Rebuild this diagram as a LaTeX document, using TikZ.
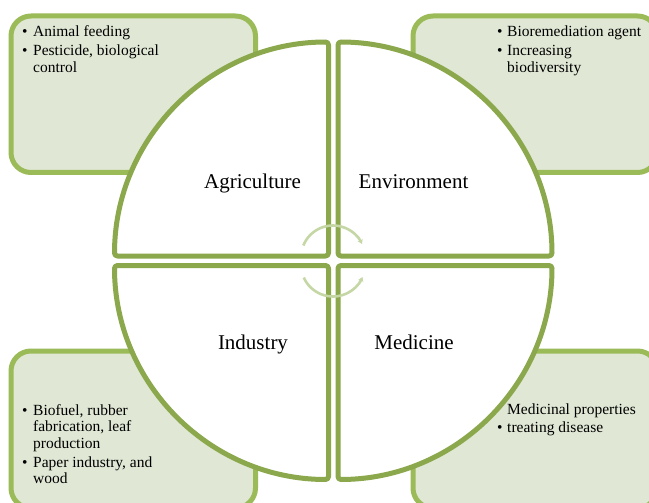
\documentclass[tikz,border=0pt]{standalone}
\usepackage{fontspec}
\setmainfont{Liberation Serif}
\usetikzlibrary{arrows.meta}
\definecolor{quadgreen}{RGB}{139,168,76}
\definecolor{boxgreen}{RGB}{155,187,89}
\definecolor{boxfill}{RGB}{224,232,213}
\definecolor{arcgreen}{RGB}{198,215,166}
\newcommand\bltxt{\fontsize{15.5}{16.5}\selectfont}
\begin{document}
\begin{tikzpicture}[x=1pt,y=-1pt,
  cornerbox/.style={draw=boxgreen,fill=boxfill,line width=5pt,rounded corners=20pt},
  quad/.style={draw=quadgreen,fill=white,line width=5pt,rounded corners=3pt,line join=round},
  cyclearc/.style={draw=arcgreen,line width=2.6pt,-{Stealth[length=4.5pt,width=5.5pt]}},
  quadlabel/.style={font=\fontsize{21}{25}\selectfont,anchor=base,inner sep=0pt},
  bullets/.style={anchor=base west,inner sep=0pt,font=\bltxt}]
\useasboundingbox (0,0) rectangle (649,503);
\fill[white] (0,0) rectangle (649,503);
\clip (0,0) rectangle (649,503);
% corner boxes
\draw[cornerbox] (11,16) rectangle (255.5,172.5);
\draw[cornerbox] (413,16) rectangle (657.5,172.5);
\draw[cornerbox] (11,351) rectangle (255.5,508);
\draw[cornerbox] (413,351) rectangle (657.5,508);
% quadrant corners
\coordinate (tl) at (328.5,256);
\coordinate (tr) at (338,256);
\coordinate (bl) at (328.5,265.5);
\coordinate (br) at (338,265.5);
\draw[quad] (tl) -- ++(-214,0) arc[start angle=180,end angle=270,radius=214] -- cycle;
\draw[quad] (tr) -- ++(0,-214) arc[start angle=270,end angle=360,radius=214] -- cycle;
\draw[quad] (bl) -- ++(0,214) arc[start angle=90,end angle=180,radius=214] -- cycle;
\draw[quad] (br) -- ++(214,0) arc[start angle=0,end angle=90,radius=214] -- cycle;
% central cycle arrows
\coordinate (uc) at (333,257.5);
\coordinate (lc) at (333,264.5);
\draw[cyclearc] ([shift={(-158:32)}]uc) arc[start angle=-158,end angle=-25,radius=32];
\draw[cyclearc] ([shift={(156:32)}]lc) arc[start angle=156,end angle=23,radius=32];
% quadrant labels
\node[quadlabel] (agri) at (252.5,189) {Agriculture};
\node[quadlabel] (env) at (413.5,189) {Environment};
\node[quadlabel] (ind) at (253,349) {Industry};
\node[quadlabel] (med) at (414,349) {Medicine};
% bullet texts
\node[bullets] (agritext) at (22,36.7) {\begin{tabular}[t]{@{}p{11pt}@{}l@{}}
\textbullet & Animal feeding\\[2.5pt]
\textbullet & Pesticide, biological\\
 & control\end{tabular}};
\node[bullets] (envtext) at (497,36.7) {\begin{tabular}[t]{@{}p{10pt}@{}l@{}}
\textbullet & Bioremediation agent\\[2.5pt]
\textbullet & Increasing\\
 & biodiversity\end{tabular}};
\node[bullets] (indtext) at (22,415) {\begin{tabular}[t]{@{}p{11pt}@{}l@{}}
\textbullet & Biofuel, rubber\\
 & fabrication, leaf\\
 & production\\[2.5pt]
\textbullet & Paper industry, and\\
 & wood\end{tabular}};
\node[bullets] (medtext) at (497,414) {\begin{tabular}[t]{@{}p{10pt}@{}l@{}}
 & Medicinal properties\\[1.5pt]
\textbullet & treating disease\end{tabular}};
\end{tikzpicture}
\end{document}
